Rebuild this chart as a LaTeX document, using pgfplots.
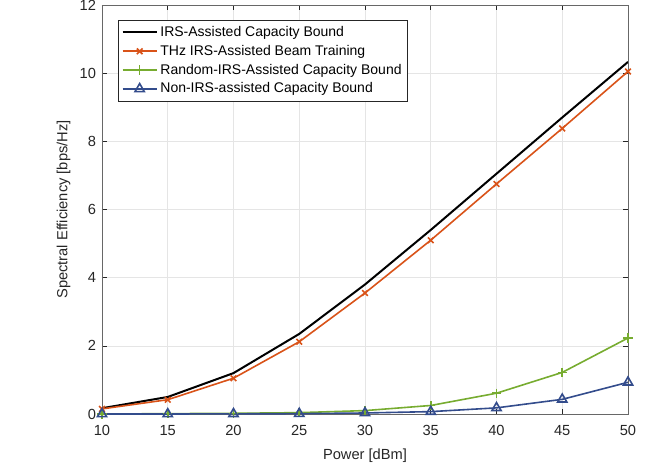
\documentclass[border=0pt]{standalone}
\usepackage{pgfplots}
\pgfplotsset{compat=1.18}
\usepackage{fontspec}
\setmainfont{Liberation Sans}
\definecolor{mOrange}{rgb}{0.85,0.325,0.098}
\definecolor{mGreen}{rgb}{0.466,0.674,0.188}
\definecolor{mBlue}{rgb}{0.2,0.3,0.55}
\definecolor{axgray}{rgb}{0.15,0.15,0.15}
\begin{document}
\begin{tikzpicture}[x=0.75pt,y=0.75pt]
\useasboundingbox (-102,-55) rectangle (551,414);
\begin{axis}[
  at={(0,0)}, anchor=south west,
  scale only axis, width=394.5pt, height=306.75pt,
  xmin=10, xmax=50, ymin=0, ymax=12,
  xtick={10,15,...,50}, ytick={0,2,...,12},
  grid=major, major grid style={gray!20, line width=0.5pt},
  axis line style={axgray!70, line width=0.5pt},
  tick style={axgray, line width=0.4pt},
  tick align=inside, major tick length=4pt,
  font=\fontsize{11}{13}\selectfont,
  tick label style={font=\fontsize{11}{13}\selectfont, text=axgray},
  xticklabel style={yshift=-5pt},
  yticklabel style={xshift=-1pt},
  /pgf/number format/assume math mode=true,
  xlabel={Power [dBm]}, ylabel={Spectral Efficiency [bps/Hz]},
  xlabel style={font=\fontsize{11}{13}\selectfont, text=axgray, yshift=-3pt},
  ylabel style={font=\fontsize{11}{13}\selectfont, text=axgray, yshift=0pt},
  legend style={at={(0.0304,0.963)}, anchor=north west, draw=axgray, line width=0.4pt,
    font=\fontsize{10.5}{12}\selectfont, row sep=1pt, inner sep=2.5pt},
  legend cell align=left,
  legend image code/.code={\draw[#1] (0cm,0cm) -- (0.9cm,0cm); \draw[#1, only marks] plot coordinates {(0.45cm,0cm)};},
]
\addplot[black, line width=1.5pt] coordinates {
(10,0.17) (15,0.5) (20,1.2) (25,2.35) (30,3.8) (35,5.4) (40,7.05) (45,8.7) (50,10.33)};
\addlegendentry{IRS-Assisted Capacity Bound}
\addplot[mOrange, line width=1.2pt, mark=x, mark size=3pt, mark options={line width=1.2pt}] coordinates {
(10,0.15) (15,0.42) (20,1.05) (25,2.12) (30,3.55) (35,5.1) (40,6.75) (45,8.38) (50,10.05)};
\addlegendentry{THz IRS-Assisted Beam Training}
\addplot[mGreen, line width=1.2pt, mark=+, mark size=3.5pt, mark options={line width=1.2pt}] coordinates {
(10,0.0) (15,0.01) (20,0.02) (25,0.04) (30,0.1) (35,0.25) (40,0.61) (45,1.22) (50,2.23)};
\addlegendentry{Random-IRS-Assisted Capacity Bound}
\addplot[mBlue, line width=1.2pt, mark=triangle, mark size=4pt, mark options={line width=1.2pt}] coordinates {
(10,0.0) (15,0.0) (20,0.005) (25,0.01) (30,0.03) (35,0.07) (40,0.18) (45,0.43) (50,0.93)};
\addlegendentry{Non-IRS-assisted Capacity Bound}
\end{axis}
\end{tikzpicture}
\end{document}
